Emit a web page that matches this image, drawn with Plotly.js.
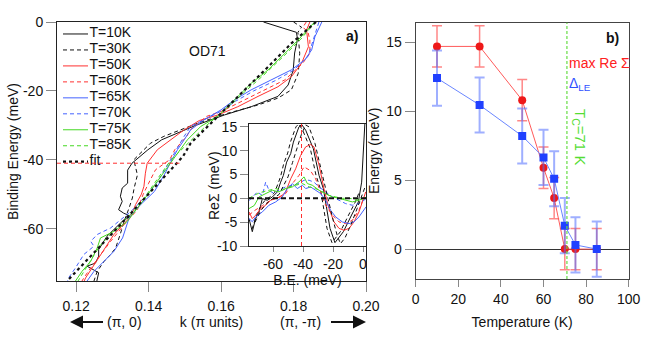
<!DOCTYPE html>
<html>
<head>
<meta charset="utf-8">
<script src="https://cdn.plot.ly/plotly-3.0.1.min.js"></script>
<style>
  html, body { margin: 0; padding: 0; background: #fff; }
  #plot { width: 648px; height: 340px; }
</style>
</head>
<body>
<div id="plot"></div>
<script>
// ---- panel a): dispersion k (pi units) vs binding energy (meV)
var e10 = [0, -3, -5, -9, -14, -18.3, -21.6, -24.6, -27, -30, -34.2, -37.1, -41, -43, -46.8, -48.2, -50.6, -52.1, -54.5, -55.5, -56.4, -57.9, -62.2, -66.1, -68, -70, -70.9, -72.8, -75.2];
var k10 = [0.1717, 0.1808, 0.1811, 0.1803, 0.1799, 0.1785, 0.1757, 0.1683, 0.1609, 0.1530, 0.1436, 0.1398, 0.1354, 0.1342, 0.1342, 0.1327, 0.1322, 0.1327, 0.1317, 0.1331, 0.1350, 0.1327, 0.1285, 0.1262, 0.1262, 0.1253, 0.1230, 0.1262, 0.1257];

var e30 = [0, -1.5, -3, -9.1, -14.9, -19.7, -22.1, -24.1, -26.5, -29.4, -33.2, -35.2, -40, -42.4, -44.4, -48.2, -51.1, -54, -57.9, -61.5, -65.6, -67.5, -69.5, -72.4, -75.2];
var k30 = [0.1800, 0.1822, 0.1812, 0.1817, 0.1813, 0.1794, 0.1757, 0.1702, 0.1618, 0.1535, 0.1442, 0.1405, 0.1359, 0.1364, 0.1369, 0.1360, 0.1355, 0.1346, 0.1332, 0.1322, 0.1309, 0.1295, 0.1277, 0.1258, 0.1249];

var e50 = [0, -2.3, -7.2, -12, -15.9, -18.8, -21.6, -24.6, -27, -28.6, -31.3, -34.2, -37.1, -41, -43.9, -47.7, -50, -53, -56.4, -61.7, -64.6, -67.5, -70.4, -74.3, -75.2];
var k50 = [0.1845, 0.1836, 0.1841, 0.1822, 0.1794, 0.1757, 0.1702, 0.1646, 0.1591, 0.1540, 0.1498, 0.1461, 0.1424, 0.1396, 0.1391, 0.1387, 0.1380, 0.1364, 0.1351, 0.1304, 0.1286, 0.1267, 0.1249, 0.1226, 0.1222];

var e60 = [0, -1.5, -3, -5.2, -9.1, -12, -16.8, -20.2, -23.6, -26, -27.4, -31.3, -33.2, -37.1, -40, -42.9, -46.8, -50, -54.5, -58.9, -63.7, -67.5, -71.4, -74.3, -75.2];
var k60 = [0.1835, 0.1826, 0.1840, 0.1845, 0.1845, 0.1825, 0.1776, 0.1711, 0.1646, 0.1600, 0.1560, 0.1515, 0.1505, 0.1472, 0.1458, 0.1419, 0.1400, 0.1385, 0.1369, 0.1332, 0.1295, 0.1267, 0.1240, 0.1221, 0.1216];

var e65 = [0, -4.3, -8.1, -11, -13.9, -16.3, -19.7, -22.6, -25.5, -28.4, -31.3, -34.2, -37, -40.5, -44.4, -49.2, -53, -56.9, -59.8, -62.7, -66.6, -69.5, -72.4, -75.2];
var k65 = [0.1878, 0.1859, 0.1850, 0.1831, 0.1794, 0.1748, 0.1683, 0.1637, 0.1600, 0.1553, 0.1516, 0.1498, 0.1480, 0.1462, 0.1443, 0.1416, 0.1378, 0.1346, 0.1337, 0.1328, 0.1304, 0.1277, 0.1249, 0.1230];

var e70 = [0, -5, -10, -14, -17, -20, -23, -26, -30.3, -33.2, -37, -41, -46.3, -51.1, -55, -59.8, -61.7, -63.7, -65.1, -67.5, -71.4, -74.3, -75.2];
var k70 = [0.1870, 0.1855, 0.1840, 0.1800, 0.1750, 0.1690, 0.1640, 0.1598, 0.1516, 0.1498, 0.1478, 0.1455, 0.1425, 0.1388, 0.1351, 0.1295, 0.1258, 0.1240, 0.1249, 0.1221, 0.1198, 0.1179, 0.1176];

var e75 = [0, -5.2, -9.1, -13.9, -17.8, -22.6, -27.4, -30.3, -34.2, -38.1, -41.5, -46.3, -50.2, -54, -57.9, -60.8, -62.7, -65.6, -69.5, -72.4, -75.2];
var k75 = [0.1858, 0.1813, 0.1776, 0.1730, 0.1683, 0.1637, 0.1591, 0.1544, 0.1507, 0.1480, 0.1457, 0.1425, 0.1397, 0.1369, 0.1341, 0.1304, 0.1267, 0.1258, 0.1240, 0.1216, 0.1198];

var e85 = [0, -5, -10, -15, -20, -25, -30, -35, -40, -45, -50, -55, -60, -65, -70, -75.2];
var k85 = [0.1860, 0.1820, 0.1772, 0.1722, 0.1668, 0.1617, 0.1560, 0.1510, 0.1462, 0.1428, 0.1395, 0.1358, 0.1310, 0.1265, 0.1235, 0.1205];

var eFit = [0, -6.2, -13, -18.8, -24.6, -29.4, -35.2, -39, -50, -60, -75.2];
var kFit = [0.1862, 0.1794, 0.1730, 0.1674, 0.1618, 0.1572, 0.1516, 0.1495, 0.1400, 0.1312, 0.1175];

var maxBE = -41;        // binding energy of max Re Sigma (meV)
var maxBEkEnd = 0.1485; // where the guide line in a) stops

// ---- inset: Re Sigma (meV) vs B.E. (meV)
var be10 = [-76, -73.8, -71.6, -69.3, -67.1, -63.8, -60.4, -57.1, -54.9, -53.1, -50.9, -48.2, -46.4, -42.7, -40.9, -38.2, -33.1, -29.3, -26.4, -24.2, -22, -18.7, -13.1, -7.6, -3.1, -0.9, 0.2, 1.3];
var re10 = [-4.25, -7.0, -4.25, -2.85, -0.05, -0.4, 0.3, 1.35, 3.4, 4.8, 7.6, 9.4, 11.8, 15.0, 15.5, 14.3, 10.4, 4.8, 2.0, -2.2, -6.3, -9.3, -7.0, -3.5, -0.75, 3.4, 10.4, 16];

var be30a = [-74, -71, -68, -65, -62, -59, -57, -55, -52.9, -50.2, -48.4, -44.7, -42.9, -40.2, -35.1, -31.3, -28.4, -26.2, -24, -20.7, -15.1, -9.6, -5.1, -2.9];
var re30a = [-6.5, -3.5, -1.5, -0.3, 0.3, 1.2, 2.8, 4.5, 7.2, 9.5, 11.8, 15.0, 15.6, 14.3, 10.4, 4.8, 2.0, -2.2, -6.3, -9.3, -7.0, -3.5, -0.75, 1.0];
var be30b = [-72, -68, -64, -60, -56, -53, -50, -47, -44, -41, -38.2, -36, -32, -28, -24, -20, -17, -15, -12, -8, -4, 0, 1.5];
var re30b = [-5, -2.5, -1, 0, 0.8, 2.5, 4.5, 7.5, 10.5, 13.5, 15.4, 15, 11.5, 6, 0.8, -4.5, -8, -9.5, -8.3, -5.5, -2.2, 1.0, 2.5];

var be50 = [-76, -73.8, -71.6, -68.2, -64.9, -61.6, -58.2, -54.9, -51.6, -48.2, -44.9, -41.6, -38.2, -34.9, -32.7, -29.3, -26, -22.7, -19.3, -16, -12.7, -9.3, -6, -2.7, -0.4, 1.8];
var re50 = [-2.85, -4.25, -3.55, -2.15, -1.45, -0.4, 0, 0.3, 1.35, 4.1, 6.2, 9, 10.8, 11.3, 10.8, 7, 2.0, -2.15, -4.95, -6.3, -6.7, -6.3, -4.95, -2.85, -0.75, 1.35];

var be60 = [-76, -72, -67, -62, -56, -51.6, -47.1, -42.7, -39.3, -37.1, -35, -31.6, -28.2, -24.9, -20.4, -16, -11.6, -7.1, -2.7, 0.7];
var re60 = [-3.5, -2.5, -1.5, -0.5, 0.3, 1, 3.1, 4.8, 6.6, 6.2, 5.8, 4.1, 1.35, -1.45, -3.5, -4.95, -5.3, -4.6, -2.5, 0.3];

var be65 = [-76, -73.8, -71.6, -67.1, -62.7, -58.2, -53.8, -50.4, -47.1, -43.8, -40.4, -38.2, -34.9, -31.6, -28.2, -24.9, -21.6, -18.2, -13.8, -9.3, -6, -2.7, 0.7, 2];
var re65 = [-4.25, -4.9, -3.9, -2.85, -1.45, -0.75, 0.3, 2.05, 3.1, 2.05, 2.75, 2.05, 2.4, 1.7, 1.0, -0.4, -2.5, -3.9, -4.95, -5.3, -4.95, -3.9, -2.5, -1.8];

var be70 = [-76, -73.8, -70.4, -67.1, -64.9, -62.7, -59.3, -56, -51.6, -47.1, -42.7, -39.3, -36, -32.7, -29.3, -24.9, -20.4, -16, -11.6, -7.1, -2.7, 0.7, 2];
var re70 = [-0.5, 0.3, 1.35, 0.6, 3.4, 1.7, 1.0, 1.7, 2.4, 2.75, 3.1, 3.8, 3.8, 3.4, 2.4, 1.35, 0.3, -0.4, -1.1, -1.45, -1.1, -0.4, 0];

var be75 = [-76, -72.5, -69.3, -64.9, -60.4, -56, -51.6, -47.1, -42.7, -39.3, -37.1, -33.8, -29.3, -24.9, -20.4, -16, -11.6, -7.1, -2.7, 0.7, 2];
var re75 = [-2.15, -1.5, 0.3, 1.0, 1.7, 1.35, 2.05, 2.4, 3.45, 4.5, 3.1, 2.75, 1.7, 1.0, 0.3, 0, -0.4, -0.75, -0.4, 0, 0.2];

var be85 = [-76, -71.6, -67.1, -62.7, -58.2, -53.8, -49.3, -44.9, -40.4, -36, -31.6, -27.1, -22.7, -18.2, -13.8, -9.3, -4.9, 0.7, 2];
var re85 = [0, 0.8, 1.35, 1.7, 2.05, 1.7, 2.4, 2.75, 3.1, 2.4, 2.05, 1.35, 0.6, 0.3, 0, 0, -0.2, 0, 0];

// ---- panel b): energies vs temperature
var temps = [10, 30, 50, 60, 65, 70, 75, 85];
var maxReSigma = [14.7, 14.7, 10.8, 5.9, 3.7, 0, 0, 0];
var maxReSigmaErr = [1.5, 1.5, 1.5, 1.5, 1.5, 1.5, 1.5, 1.5];
var deltaLE = [12.4, 10.45, 8.2, 6.65, 5.1, 1.7, 0.3, 0];
var deltaLEErr = [2, 2, 2, 2, 2, 2, 2, 2];
var Tc = 71;

var FONT = 'Liberation Sans, Arial, sans-serif';
var FS = 14;
var RED = '#ff3030', BLUE = '#4462ff', GREEN = '#44d822', BLACK = '#111';
var W = 648, H = 340;
function px(x) { return x / W; }
function py(y) { return 1 - y / H; }

var series = [
  {name: 'T=10K', k: k10, e: e10, be: be10, re: re10, color: BLACK, dash: 'solid'},
  {name: 'T=30K', k: k30, e: e30, be: be30a, re: re30a, color: BLACK, dash: '4px,3px'},
  {name: 'T=50K', k: k50, e: e50, be: be50, re: re50, color: RED, dash: 'solid'},
  {name: 'T=60K', k: k60, e: e60, be: be60, re: re60, color: RED, dash: '4px,3px'},
  {name: 'T=65K', k: k65, e: e65, be: be65, re: re65, color: BLUE, dash: 'solid'},
  {name: 'T=70K', k: k70, e: e70, be: be70, re: re70, color: BLUE, dash: '4px,3px'},
  {name: 'T=75K', k: k75, e: e75, be: be75, re: re75, color: GREEN, dash: 'solid'},
  {name: 'T=85K', k: k85, e: e85, be: be85, re: re85, color: GREEN, dash: '4px,3px'}
];

var data = [];
series.forEach(function (s) {
  data.push({x: s.k, y: s.e, xaxis: 'x', yaxis: 'y', mode: 'lines', type: 'scatter',
    line: {color: s.color, width: 1, dash: s.dash}, hoverinfo: 'skip'});
});
data.push({x: kFit, y: eFit, xaxis: 'x', yaxis: 'y', mode: 'lines', type: 'scatter',
  line: {color: BLACK, width: 2.2, dash: 'dot'}, hoverinfo: 'skip'});

// inset curves
series.forEach(function (s) {
  data.push({x: s.be, y: s.re, xaxis: 'x3', yaxis: 'y3', mode: 'lines', type: 'scatter',
    line: {color: s.color, width: 1, dash: s.dash}, hoverinfo: 'skip'});
});
data.push({x: be30b, y: re30b, xaxis: 'x3', yaxis: 'y3', mode: 'lines', type: 'scatter',
  line: {color: BLACK, width: 1, dash: '4px,3px'}, hoverinfo: 'skip'});

// hand-placed legend in its own invisible subplot
var legNames = series.map(function (s) { return s.name; }).concat(['fit']);
var legStyles = series.map(function (s) { return {color: s.color, width: 1, dash: s.dash}; })
  .concat([{color: BLACK, width: 2.2, dash: 'dot'}]);
legNames.forEach(function (n, i) {
  data.push({x: [3, 28], y: [i, i], xaxis: 'x4', yaxis: 'y4', mode: 'lines', type: 'scatter',
    line: legStyles[i], hoverinfo: 'skip'});
});
data.push({x: legNames.map(function () { return 29.5; }), y: legNames.map(function (n, i) { return i; }),
  text: legNames, xaxis: 'x4', yaxis: 'y4', mode: 'text', type: 'scatter',
  textposition: 'middle right', textfont: {family: FONT, size: FS, color: BLACK}, hoverinfo: 'skip'});

// panel b)
data.push({x: temps, y: maxReSigma, xaxis: 'x2', yaxis: 'y2', mode: 'lines+markers', type: 'scatter',
  line: {color: '#ff5a5a', width: 1}, marker: {symbol: 'circle', size: 8, color: '#ee1818'},
  error_y: {type: 'data', array: maxReSigmaErr, color: 'rgba(255,70,70,0.65)', thickness: 1.5, width: 5}});
data.push({x: temps, y: deltaLE, xaxis: 'x2', yaxis: 'y2', mode: 'lines+markers', type: 'scatter',
  line: {color: '#6a86ff', width: 1}, marker: {symbol: 'square', size: 8, color: '#2040ff'},
  error_y: {type: 'data', array: deltaLEErr, color: 'rgba(80,110,255,0.55)', thickness: 2, width: 5}});

var tickFont = {family: FONT, size: FS, color: BLACK};
var titleFont = {family: FONT, size: FS, color: BLACK};
function frameAxis(extra) {
  var a = {showline: true, linecolor: '#222', linewidth: 1, mirror: true, showgrid: false, zeroline: false,
    ticks: 'outside', tickcolor: '#888', tickfont: tickFont, fixedrange: true};
  for (var key in extra) a[key] = extra[key];
  return a;
}

// paper-positioned label, always centred on the given point unless told otherwise
function label(text, x, y, extra) {
  var a = {text: text, xref: 'paper', yref: 'paper', x: px(x), y: py(y), xanchor: 'center', yanchor: 'middle',
    showarrow: false, font: {family: FONT, size: FS, color: BLACK}};
  for (var key in extra) a[key] = extra[key];
  return a;
}

// direction label with an arrow running from the text out to the axis end
function dirLabel(text, textX, headX, y, gap) {
  return {text: text, xref: 'paper', yref: 'paper', x: px(headX), y: py(y), ax: textX - headX, ay: 0,
    xanchor: 'center', yanchor: 'middle', showarrow: true, arrowhead: 2, arrowsize: 1.3, arrowwidth: 2,
    arrowcolor: BLACK, standoff: 0, startstandoff: gap, font: {family: FONT, size: FS, color: BLACK}};
}

var layout = {
  width: W, height: H,
  margin: {l: 0, r: 0, t: 0, b: 0},
  paper_bgcolor: '#fff', plot_bgcolor: 'rgba(0,0,0,0)',
  showlegend: false,
  font: {family: FONT, size: FS, color: BLACK},
  xaxis: frameAxis({domain: [px(57), px(366)], range: [0.1147, 0.2], anchor: 'y',
    tickvals: [0.12, 0.14, 0.16, 0.18, 0.20], tickformat: '.2f', ticklen: 10, ticklabelstandoff: 2,
    title: {text: 'k (π units)', font: titleFont, standoff: 3}}),
  yaxis: frameAxis({domain: [py(281), py(22)], range: [-75.2, 0], anchor: 'x',
    tickvals: [0, -20, -40, -60], ticktext: ['0', '-20', '-40', '-60'], ticklen: 10,
    title: {text: 'Binding Energy (meV)', font: titleFont, standoff: 1}}),
  xaxis3: frameAxis({domain: [px(249), px(366)], range: [-76, 2], anchor: 'y3',
    tickvals: [-60, -40, -20, 0], ticktext: ['-60', '-40', '-20', '0'], ticklen: 5,
    title: {text: 'B.E. (meV)', font: titleFont, standoff: 1}}),
  yaxis3: frameAxis({domain: [py(246), py(124)], range: [-10, 15.6], anchor: 'x3',
    tickvals: [15, 10, 5, 0, -5, -10], ticktext: ['15', '10', '5', '0', '-5', '-10'], ticklen: 8}),
  xaxis2: frameAxis({domain: [px(415.7), px(628.7)], range: [0, 100], anchor: 'y2',
    tickvals: [0, 20, 40, 60, 80, 100], ticklen: 7, linecolor: '#444',
    title: {text: 'Temperature (K)', font: titleFont, standoff: 11}}),
  yaxis2: frameAxis({domain: [py(279), py(22.7)], range: [-2.17, 16.42], anchor: 'x2',
    tickvals: [0, 5, 10, 15], ticklen: 10, linecolor: '#444',
    zeroline: true, zerolinecolor: '#333', zerolinewidth: 1,
    title: {text: 'Energy (meV)', font: titleFont, standoff: 3}}),
  xaxis4: {domain: [px(60), px(140)], range: [0, 80], visible: false, anchor: 'y4', fixedrange: true},
  yaxis4: {domain: [py(169.7), py(26)], range: [8.5, -0.5], visible: false, anchor: 'x4', fixedrange: true},
  shapes: [
    {type: 'line', xref: 'x', yref: 'y', x0: 0.1147, x1: maxBEkEnd, y0: maxBE, y1: maxBE,
      line: {color: RED, width: 1, dash: '4px,3px'}},
    {type: 'line', xref: 'x3', yref: 'y3 domain', x0: maxBE, x1: maxBE, y0: 0, y1: 1,
      line: {color: RED, width: 1, dash: '4px,3px'}},
    {type: 'line', xref: 'x3 domain', yref: 'y3', x0: 0, x1: 1, y0: 0, y1: 0,
      line: {color: BLACK, width: 2, dash: '5px,3px'}},
    {type: 'line', xref: 'x2', yref: 'y2 domain', x0: Tc, x1: Tc, y0: 0, y1: 1,
      line: {color: '#66dd44', width: 1.2, dash: '3px,2px'}}
  ],
  annotations: [
    label('ReΣ (meV)', 214, 186, {textangle: -90}),
    label('OD71', 207.5, 51),
    label('<b>a)</b>', 352, 36),
    dirLabel('(π, 0)', 124, 70, 322, 2),
    dirLabel('(π, -π)', 301, 366, 322, 8),
    label('max Re Σ', 567, 63, {xanchor: 'left', font: {family: FONT, size: FS, color: '#ff2020'}}),
    label('Δ<sub>LE</sub>', 567, 84, {xanchor: 'left', font: {family: FONT, size: FS, color: '#3050ff'}}),
    label('T<sub>C</sub>=71 K', 580, 137, {textangle: 90, font: {family: FONT, size: 15, color: '#55dd33'}}),
    label('<b>b)</b>', 612, 38)
  ]
};

Plotly.newPlot('plot', data, layout, {staticPlot: true, displayModeBar: false});
</script>
</body>
</html>
